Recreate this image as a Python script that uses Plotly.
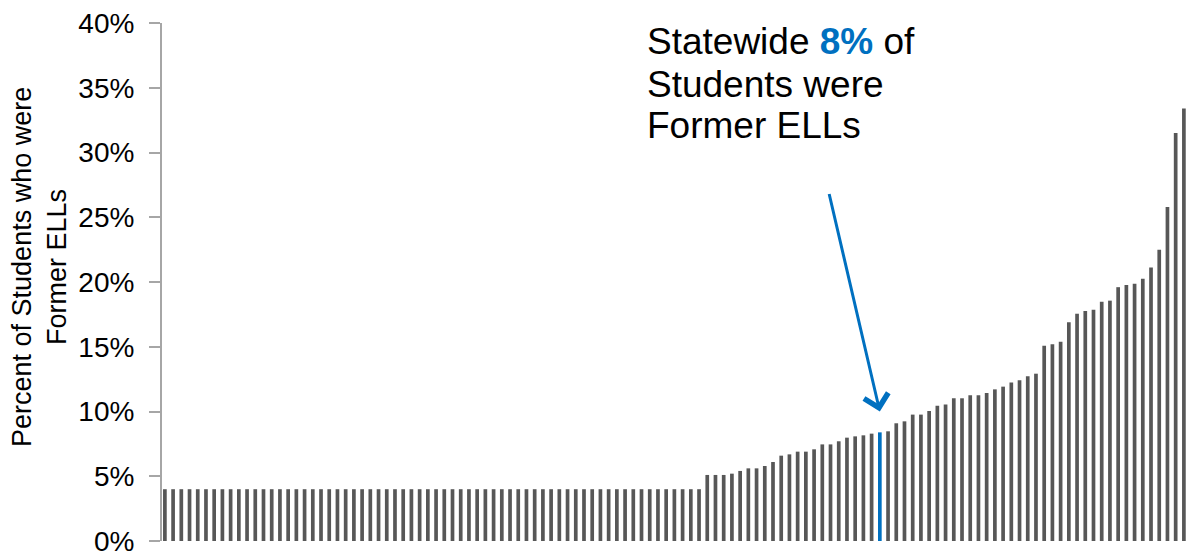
"""
Former ELLs by school: sorted bar chart, statewide school highlighted in blue.
"""
import plotly.graph_objects as go

FONT = 'Liberation Sans, Arial, sans-serif'
BAR_CLR = '#575757'
BLUE = '#0070C0'
AXIS_CLR = '#a6a6a6'

# share of former ELLs per school, in %, sorted ascending
PCT_FLAT = [
    4.0, 4.0, 4.0, 4.0, 4.0, 4.0, 4.0, 4.0, 4.0, 4.0, 4.0,
    4.0, 4.0, 4.0, 4.0, 4.0, 4.0, 4.0, 4.0, 4.0, 4.0, 4.0,
    4.0, 4.0, 4.0, 4.0, 4.0, 4.0, 4.0, 4.0, 4.0, 4.0, 4.0,
    4.0, 4.0, 4.0, 4.0, 4.0, 4.0, 4.0, 4.0, 4.0, 4.0, 4.0,
    4.0, 4.0, 4.0, 4.0, 4.0, 4.0, 4.0, 4.0, 4.0, 4.0, 4.0,
    4.0, 4.0, 4.0, 4.0, 4.0, 4.0, 4.0, 4.0, 4.0, 4.0, 4.0,
]
PCT_MID = [
    5.10, 5.10, 5.10, 5.20, 5.41, 5.61, 5.61, 5.79, 6.10, 6.59,
    6.69, 6.90, 6.90, 7.08, 7.46, 7.46, 7.70, 7.98, 8.08, 8.16,
    8.29, 8.39, 8.47, 9.09, 9.24, 9.76, 9.76, 10.04, 10.45, 10.55,
]
PCT_HIGH = [
    11.02, 11.02, 11.25, 11.25, 11.43, 11.71, 11.92, 12.23, 12.41, 12.72,
    12.92, 15.08, 15.19, 15.39, 16.89, 17.55, 17.76, 17.86, 18.48, 18.56,
    19.60, 19.77, 19.87, 20.26, 21.12, 22.50, 25.80, 31.50, 33.40,
]
VALUES = PCT_FLAT + PCT_MID + PCT_HIGH
SCHOOLS = list(range(len(VALUES)))
STATE_IDX = 87            # bar drawn in blue (statewide level)
STATE_PCT = 8

Y_TICKS = [0, 5, 10, 15, 20, 25, 30, 35, 40]
Y_TICKTEXT = ['0%', '5%', '10%', '15%', '20%', '25%', '30%', '35%', '40%']

# layout in pixels
W, H = 1188, 554
M_L, M_R, M_T, M_B = 162, 0, 23, 13
PW, PH = W - M_L - M_R, H - M_T - M_B


def px_x(px):
    return (px - M_L) / PW


def px_y(py):
    return 1 - (py - M_T) / PH


colors = [BLUE if i == STATE_IDX else BAR_CLR for i in SCHOOLS]

fig = go.Figure()
fig.add_trace(go.Bar(
    x=SCHOOLS, y=VALUES,
    marker=dict(color=colors, line=dict(width=0)),
    hovertemplate='%{y:.1f}%<extra></extra>',
))

annotations = []

# callout text, one line per annotation to keep the tight line spacing
lines = [
    (f'Statewide <span style="color:{BLUE}"><b>{STATE_PCT}%</b></span> of', 41),
    ('Students were', 84),
    ('Former ELLs', 125),
]
for txt, cy in lines:
    annotations.append(dict(
        text=txt, x=px_x(645), y=px_y(cy), xref='paper', yref='paper',
        xanchor='left', yanchor='middle', showarrow=False,
        font=dict(size=37, color='#000000', family=FONT),
    ))

# arrow pointing at the statewide bar
annotations.append(dict(
    text='', x=STATE_IDX, y=10.0, xref='x', yref='y',
    ax=-51, ay=-219, showarrow=True,
    arrowhead=4, arrowsize=1.6, arrowwidth=3, arrowcolor=BLUE, standoff=0,
))

# y axis title (two centred lines, rotated)
annotations.append(dict(
    text='Percent of Students who were<br>Former ELLs',
    x=px_x(39), y=px_y(267), xref='paper', yref='paper',
    xanchor='center', yanchor='middle', textangle=-90, showarrow=False,
    font=dict(size=27, color='#000000', family=FONT),
))

fig.update_layout(
    width=W, height=H,
    plot_bgcolor='white', paper_bgcolor='white',
    font=dict(family=FONT, color='#000000'),
    bargap=0.55,
    showlegend=False,
    xaxis=dict(
        range=[-0.35, len(VALUES) - 0.5], automargin=False,
        showticklabels=False, showgrid=False, zeroline=False,
        showline=False, ticks='',
    ),
    yaxis=dict(
        range=[0, 40], automargin=False,
        tickvals=Y_TICKS, ticktext=Y_TICKTEXT,
        tickfont=dict(size=28, color='#000000', family=FONT),
        ticks='outside', ticklen=11, tickwidth=1.5, tickcolor=AXIS_CLR,
        ticklabelstandoff=9, ticklabeloverflow='allow',
        showline=True, linecolor=AXIS_CLR, linewidth=2,
        showgrid=False, zeroline=False,
    ),
    annotations=annotations,
    margin=dict(l=M_L, r=M_R, t=M_T, b=M_B),
)

# drop the default page margin so the figure sits at the window origin
fig.write_html('out.html', config={'displayModeBar': False},
               post_script="document.body.style.margin='0';")
